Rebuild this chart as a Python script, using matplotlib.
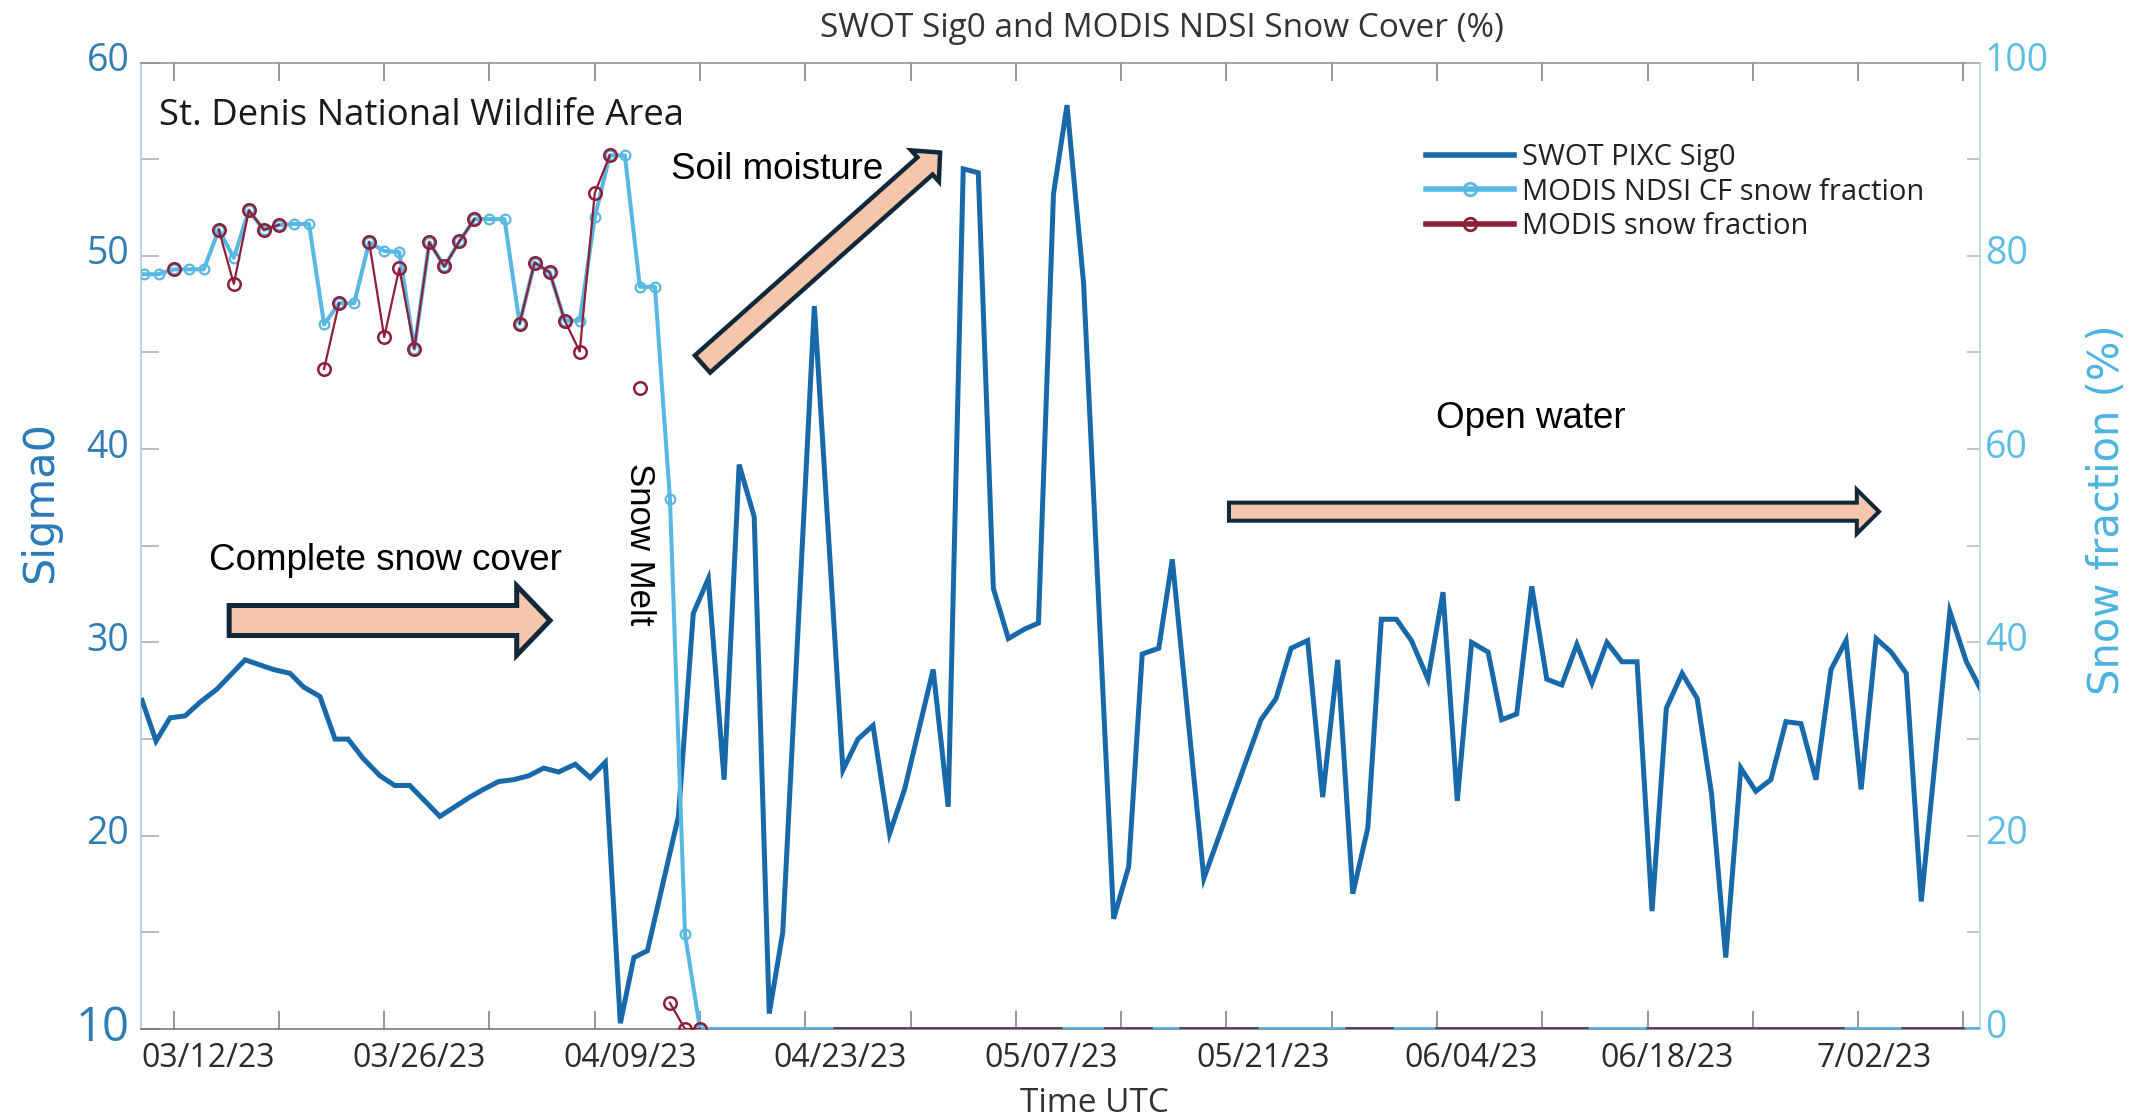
import numpy as np
import pandas as pd
import matplotlib
matplotlib.use('Agg')
import matplotlib.pyplot as plt
import matplotlib.dates as mdates
from matplotlib.lines import Line2D
from matplotlib.patches import FancyArrowPatch, ArrowStyle
from matplotlib.transforms import ScaledTranslation

# SWOT PIXC sigma0 - days after 2023-03-12 (the 1-day orbit drifts a little earlier each pass)
swot_day = [-2.1, -1.17, -0.24, 0.76, 1.75, 2.9, 4.75, 6.63, 7.74, 8.63,
            9.73, 10.73, 11.6, 12.6, 13.72, 14.7, 15.7, 17.7, 18.7, 19.7,
            20.6, 21.6, 22.6, 23.6, 24.6, 25.6, 26.7, 27.7, 28.7, 29.7,
            30.6, 31.5, 33.56, 34.55, 35.55, 36.6, 37.6, 38.6, 39.6, 40.5,
            42.6, 44.5, 45.5, 46.5, 47.6, 48.6, 50.5, 51.5, 52.5, 53.5,
            54.5, 55.5, 56.6, 57.5, 58.5, 59.4, 60.5, 62.5, 63.5, 64.4,
            65.5, 66.4, 68.5, 72.3, 73.3, 74.3, 75.4, 76.4, 77.4, 78.4,
            79.4, 80.3, 81.3, 82.3, 83.4, 84.4, 85.35, 86.3, 87.4, 88.3,
            89.3, 90.3, 91.3, 92.3, 93.3, 94.3, 95.3, 96.3, 97.3, 98.3,
            99.25, 100.3, 101.3, 102.25, 103.2, 104.2, 105.2, 106.2, 107.2, 108.2,
            109.2, 110.2, 111.2, 112.2, 113.2, 114.2, 115.2, 116.2, 118.1, 119.2,
            120.2]
swot_sig0 = [27.0, 24.9, 26.1, 26.2, 26.9, 27.6, 29.1, 28.6, 28.4, 27.7,
             27.2, 25.0, 25.0, 24.0, 23.1, 22.6, 22.6, 21.0, 21.5, 22.0,
             22.4, 22.8, 22.9, 23.1, 23.5, 23.3, 23.7, 23.0, 23.8, 10.3,
             13.7, 14.05, 21.0, 31.5, 33.3, 22.9, 39.2, 36.5, 10.8, 15.0,
             47.4, 23.4, 25.0, 25.7, 20.1, 22.4, 28.6, 21.5, 54.5, 54.3,
             32.8, 30.2, 30.7, 31.0, 53.2, 57.8, 48.6, 15.7, 18.4, 29.4,
             29.7, 34.3, 17.8, 26.0, 27.1, 29.7, 30.1, 22.0, 29.1, 17.0,
             20.4, 31.2, 31.2, 30.1, 28.1, 32.6, 21.8, 30.0, 29.5, 26.0,
             26.3, 32.9, 28.1, 27.8, 29.9, 27.9, 30.0, 29.0, 29.0, 16.1,
             26.6, 28.4, 27.1, 22.2, 13.7, 23.5, 22.3, 22.9, 25.9, 25.8,
             22.9, 28.6, 30.1, 22.4, 30.2, 29.5, 28.4, 16.6, 31.6, 29.0,
             27.5]

# MODIS daily snow fraction (%), 2023-03-10 .. 2023-04-16
modis_start, modis_end = '2023-03-10', '2023-04-16'
modis_cf = [78.1, 78.1, 78.6, 78.6, 78.6, 82.7, 79.8, 84.7, 82.7, 83.2,
            83.3, 83.3, 72.9, 75.1, 75.1, 81.4, 80.5, 80.4, 70.4, 81.4,
            78.9, 81.5, 83.8, 83.8, 83.8, 73.0, 79.3, 78.3, 73.3, 73.3,
            84.0, 90.4, 90.4, 76.8, 76.8, 54.8, 9.8, 0.0]
nan = np.nan
modis_sf = [nan, nan, 78.6, nan, nan, 82.7, 77.1, 84.7, 82.7, 83.2,
            nan, nan, 68.3, 75.1, nan, 81.4, 71.6, 78.7, 70.4, 81.4,
            78.9, 81.5, 83.8, nan, nan, 73.0, 79.3, 78.3, 73.3, 70.1,
            86.5, 90.4, nan, 66.3, nan, 2.7, 0.0, 0.0]

# snow-free period: both MODIS products sit at 0 %
cf_zero_span = ('2023-04-16', '2023-07-10')
sf_zero_spans = [('2023-04-25', '2023-05-10'), ('2023-05-13', '2023-05-16'),
                 ('2023-05-18', '2023-05-23'), ('2023-05-29', '2023-06-01'),
                 ('2023-06-04', '2023-06-14'), ('2023-06-18', '2023-07-01'),
                 ('2023-07-05', '2023-07-09')]

tick_dates = pd.date_range('2023-03-12', '2023-07-09', freq='7D')
tick_labels = ['03/12/23', '', '03/26/23', '', '04/09/23', '', '04/23/23', '',
               '05/07/23', '', '05/21/23', '', '06/04/23', '', '06/18/23', '',
               '7/02/23', '']

SWOT_C = '#1769AA'
CF_C = '#58B8E1'
SF_C = '#8E1E3A'
ARROW_FILL = '#F5C6AA'
ARROW_EDGE = '#10283A'
LEFT_C = '#2F7DB4'
RIGHT_C = '#5BBDE3'

plt.rcParams['font.family'] = ['Open Sans', 'DejaVu Sans']

fig = plt.figure(figsize=(21.44, 11.19), dpi=100)
ax = fig.add_axes([0.0658, 0.0804, 0.8577, 0.8637])
ax2 = ax.twinx()

t0 = pd.Timestamp('2023-03-12')
swot_t = mdates.date2num((t0 + pd.to_timedelta(swot_day, unit='D')).values)
modis_t = mdates.date2num(pd.date_range(modis_start, modis_end).values)

ax.plot(swot_t, swot_sig0, color=SWOT_C, lw=3.6, solid_joinstyle='miter', zorder=3)

ax2.plot(mdates.date2num(pd.to_datetime(list(cf_zero_span)).values), [0, 0],
         color=CF_C, lw=2.9, zorder=3)
for s, e in sf_zero_spans:
    ax2.plot(mdates.date2num(pd.to_datetime([s, e]).values), [0, 0],
             color='#5b3a52', lw=2.6, zorder=4)
ax2.plot(modis_t, modis_cf, color=CF_C, lw=2.9, marker='o', ms=7,
         mfc='none', mew=1.6, zorder=3)
ax2.plot(modis_t, modis_sf, color=SF_C, lw=1.6, marker='o', ms=9,
         mfc='none', mew=1.8, zorder=4)

ax.set_xlim(mdates.date2num(pd.Timestamp('2023-03-09 20:00')),
            mdates.date2num(pd.Timestamp('2023-07-10 02:30')))
ax.set_ylim(10, 60)
ax2.set_ylim(0, 100)

ax.set_xticks(mdates.date2num(tick_dates.values))
ax.set_xticklabels(tick_labels)
ax.set_yticks([10, 20, 30, 40, 50, 60])
ax.set_yticks([15, 25, 35, 45, 55], minor=True)
ax2.set_yticks([0, 20, 40, 60, 80, 100])
ax2.set_yticks([10, 30, 50, 70, 90], minor=True)

ax.tick_params(axis='x', direction='in', length=13, width=1.1, color='#7a7a7a',
               top=True, labelsize=23, labelcolor='#2b2b2b', pad=9)
ax.tick_params(axis='y', which='both', direction='in', length=13, width=1.1,
               color='#a8a8a8', labelsize=27, labelcolor=LEFT_C, pad=8.5)
ax2.tick_params(axis='y', which='both', direction='in', length=9.5, width=1.1,
                color='#b5b5b5', labelsize=27, labelcolor=RIGHT_C, pad=3.5)

ax.spines['left'].set_color('#a9c6d8')
ax.spines['top'].set_color('#8a8a8a')
ax.spines['bottom'].set_color('#6d6d6d')
ax.spines['right'].set_visible(False)
for side in ['left', 'top', 'bottom']:
    ax2.spines[side].set_visible(False)
ax2.spines['right'].set_color('#a6d7ec')
for sp in list(ax.spines.values()) + list(ax2.spines.values()):
    sp.set_linewidth(1.1)

# date labels sit to the right of their ticks in the original
label_shift = [34, 35, 35, 35, 35, 37, 34, 20, 16]
for lbl, dx in zip(ax.get_xticklabels()[::2], label_shift):
    lbl.set_transform(lbl.get_transform() + ScaledTranslation(dx / 100, 0, fig.dpi_scale_trans))
for lbl in ax.get_yticklabels() + ax2.get_yticklabels():
    lbl.set_transform(lbl.get_transform() + ScaledTranslation(0, 6 / 100, fig.dpi_scale_trans))
ax.get_yticklabels()[0].set_fontsize(34)

ax.set_ylabel('Sigma0', fontsize=31, color='#2A7AB8', family='DejaVu Sans', va='center')
ax.yaxis.set_label_coords(-0.0549, 0.5453)
ax2.set_ylabel('Snow fraction (%)', fontsize=30, color='#4DB3E0', family='DejaVu Sans',
               va='center', rotation=90)
ax2.yaxis.set_label_coords(1.069, 0.5375)

fig.text(0.542, 0.9665, 'SWOT Sig0 and MODIS NDSI Snow Cover (%)', fontsize=24,
         color='#333333', ha='center', va='baseline')
fig.text(0.5105, 0.0063, 'Time UTC', fontsize=24, color='#333333', ha='center', va='baseline')

ax2.text(0.0095, 0.9353, 'St. Denis National Wildlife Area', transform=ax2.transAxes,
         fontsize=26.3, color='#1a1a1a', ha='left', va='baseline')

arial = ['Liberation Sans', 'DejaVu Sans']
ax2.text(0.037, 0.4749, 'Complete snow cover', transform=ax2.transAxes, fontsize=26.5,
         family=arial, ha='left', va='baseline')
ax2.text(0.2881, 0.8799, 'Soil moisture', transform=ax2.transAxes, fontsize=26.5,
         family=arial, ha='left', va='baseline')
ax2.text(0.7042, 0.6218, 'Open water', transform=ax2.transAxes, fontsize=26.5,
         family=arial, ha='left', va='baseline')
ax2.text(0.2708, 0.5013, 'Snow Melt', transform=ax2.transAxes, fontsize=25,
         family=['Liberation Sans Narrow', 'Liberation Sans'], rotation=-90,
         ha='center', va='center')


def block_arrow(axis, tail, tip, tail_w, head_w, head_l, lw):
    style = ArrowStyle.Simple(head_length=head_l, head_width=head_w, tail_width=tail_w)
    arr = FancyArrowPatch(tail, tip, arrowstyle=style, mutation_scale=1,
                          transform=axis.transAxes, fc=ARROW_FILL, ec=ARROW_EDGE,
                          lw=lw, shrinkA=0, shrinkB=0, joinstyle='miter', zorder=6)
    axis.add_artist(arr)


block_arrow(ax2, (0.0479, 0.4227), (0.2224, 0.4227), 21.6, 50, 24, 3.6)
block_arrow(ax2, (0.3053, 0.6881), (0.4345, 0.9069), 16.5, 30, 14.5, 3.2)
block_arrow(ax2, (0.5916, 0.5353), (0.9451, 0.5353), 13, 31.7, 16, 2.9)

handles = [Line2D([], [], color=SWOT_C, lw=4),
           Line2D([], [], color=CF_C, lw=4, marker='o', ms=9, mfc='none', mew=2),
           Line2D([], [], color=SF_C, lw=4, marker='o', ms=9, mfc='none', mew=2)]
leg = ax2.legend(handles, ['SWOT PIXC Sig0', 'MODIS NDSI CF snow fraction', 'MODIS snow fraction'],
                 loc='upper left', bbox_to_anchor=(0.699, 0.917), frameon=False, fontsize=21,
                 handlelength=3.0, handletextpad=0.27, labelspacing=0.2,
                 borderpad=0, borderaxespad=0)
for txt in leg.get_texts():
    txt.set_color('#222222')

fig.savefig('out.png', dpi=100)
